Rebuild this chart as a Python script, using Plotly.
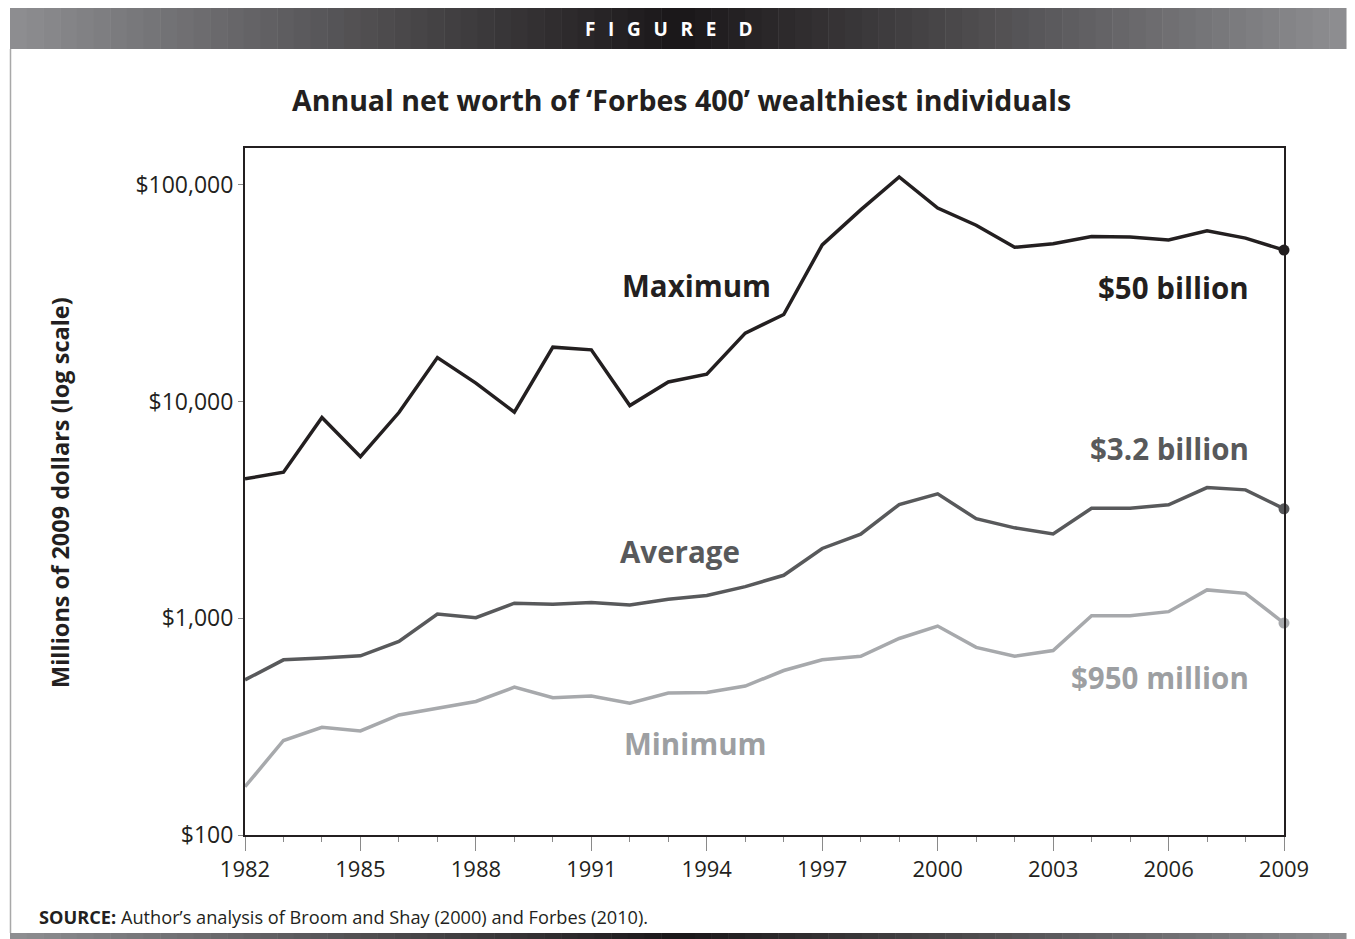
import plotly.graph_objects as go

years = list(range(1982, 2010))
maximum = [4400, 4720, 8440, 5570, 8900, 15960, 12160, 8940, 17830, 17320,
           9580, 12320, 13380, 20700, 25220, 52860, 76650, 108770, 78150, 65100,
           51500, 53500, 57700, 57400, 55700, 61300, 56800, 50000]
average = [520, 643, 655, 671, 782, 1046, 1007, 1174, 1161, 1181,
           1152, 1225, 1273, 1400, 1579, 2100, 2443, 3350, 3754, 2880,
           2614, 2452, 3220, 3220, 3338, 4010, 3913, 3200]
minimum = [167, 273, 314, 302, 358, 385, 413, 481, 430, 438,
           406, 452, 455, 487, 574, 643, 668, 807, 921, 734,
           668, 710, 1028, 1028, 1073, 1352, 1303, 950]

series_names = ["Maximum", "Average", "Minimum"]
end_labels = ["$50 billion", "$3.2 billion", "$950 million"]
ytick_vals = [100, 1000, 10000, 100000]
ytick_text = ["$100", "$1,000", "$10,000", "$100,000"]
xtick_vals = list(range(1982, 2010, 3))

C_MAX = "#231f20"
C_AVG = "#58595b"
C_MIN = "#a7a9ac"
C_MIN_TXT = "#9d9fa2"
FONT = "Open Sans"

# page offset of the plot div (browser body margin)
OFF = 8
W, H = 1355 - OFF, 939 - OFF
ML, MT = 245 - OFF, 148 - OFF
MR, MB = 71, 104
PW, PH = W - ML - MR, H - MT - MB


def px(x):  # page pixel x -> paper
    return (x - OFF - ML) / PW


def py(y):  # page pixel y -> paper
    return (H - MB - (y - OFF)) / PH


fig = go.Figure()
for vals, col in [(maximum, C_MAX), (average, C_AVG), (minimum, C_MIN)]:
    fig.add_trace(go.Scatter(x=years, y=vals, mode="lines",
                             line=dict(color=col, width=3.5),
                             hoverinfo="skip", showlegend=False))
    fig.add_trace(go.Scatter(x=[years[-1]], y=[vals[-1]], mode="markers",
                             marker=dict(color=col, size=11),
                             cliponaxis=False, hoverinfo="skip", showlegend=False))

shapes = []
# gradient header bar and bottom bar
edge = (142, 142, 146)
center = (26, 23, 24)
x0, x1 = 10, 1346
n = 80
cx = (x0 + x1) / 2
for i in range(n):
    a = x0 + (x1 - x0) * i / n
    b = x0 + (x1 - x0) * (i + 1) / n
    mid = (a + b) / 2
    t = abs(mid - cx) / (cx - x0)
    col = "rgb(%d,%d,%d)" % tuple(round(center[k] + (edge[k] - center[k]) * t) for k in range(3))
    for (ya, yb) in [(6, 49), (933, 940)]:
        shapes.append(dict(type="rect", xref="paper", yref="paper",
                           x0=px(a), x1=px(b) + 0.0005, y0=py(yb), y1=py(ya),
                           fillcolor=col, line=dict(width=0), layer="below"))
# frame side lines
for xx in [10.5, 1352.5]:
    shapes.append(dict(type="line", xref="paper", yref="paper",
                       x0=px(xx), x1=px(xx), y0=py(933), y1=py(49),
                       line=dict(color="#a8a8a8", width=1.5)))

sp = "\u2002\u2009"
annotations = [
    dict(text=sp.join("FIGURE") + sp + "\u2002" + "D", x=px(669), y=py(29),
         xref="paper", yref="paper",
         showarrow=False, font=dict(family=FONT, size=19, color="white", weight="bold"),
         xanchor="center", yanchor="middle"),
    dict(text="Annual net worth of \u2018Forbes 400\u2019 wealthiest individuals",
         x=px(681), y=py(100), xref="paper", yref="paper", showarrow=False,
         font=dict(family=FONT, size=28.5, color=C_MAX, weight="bold"),
         xanchor="center", yanchor="middle"),
    dict(text="Millions of 2009 dollars (log scale)", x=px(60), y=py(492),
         xref="paper", yref="paper", showarrow=False, textangle=-90,
         font=dict(family=FONT, size=23.5, color=C_MAX, weight="bold"),
         xanchor="center", yanchor="middle"),
    dict(text="<b>SOURCE:</b> Author\u2019s analysis of Broom and Shay (2000) and Forbes (2010).",
         x=px(37), y=py(917), xref="paper", yref="paper", showarrow=False,
         font=dict(family=FONT, size=18.2, color=C_MAX),
         xanchor="left", yanchor="middle"),
]

lab_font = lambda c: dict(family=FONT, size=29.5, color=c, weight="bold")
for name, (xc, yc), col in zip(series_names,
                                [(696, 285), (680, 551), (695, 743)],
                                [C_MAX, C_AVG, C_MIN_TXT]):
    annotations.append(dict(text=name, x=px(xc), y=py(yc), xref="paper", yref="paper",
                            showarrow=False, font=lab_font(col),
                            xanchor="center", yanchor="middle"))
for lab, yc, col in zip(end_labels, [287, 449, 677], [C_MAX, C_AVG, C_MIN_TXT]):
    annotations.append(dict(text=lab, x=px(1251), y=py(yc), xref="paper", yref="paper",
                            showarrow=False, font=lab_font(col),
                            xanchor="right", yanchor="middle"))

fig.update_layout(
    width=W, height=H,
    margin=dict(l=ML, r=MR, t=MT, b=MB, pad=0),
    paper_bgcolor="white", plot_bgcolor="white",
    shapes=shapes, annotations=annotations,
    xaxis=dict(range=[1982, 2009], tickvals=xtick_vals, ticktext=[str(v) for v in xtick_vals],
               ticks="outside", ticklen=14, tickcolor="#8a8a8a", tickwidth=1,
               minor=dict(dtick=1, tick0=1982, ticks="outside", ticklen=5,
                          tickcolor="#8a8a8a", tickwidth=1, showgrid=False),
               showgrid=False, zeroline=False, showline=True, linecolor=C_MAX,
               linewidth=2, mirror=True,
               tickfont=dict(family=FONT, size=22, color=C_MAX)),
    yaxis=dict(type="log", range=[2, 5.17], tickvals=ytick_vals, ticktext=ytick_text,
               ticks="outside", ticklen=5, tickcolor="#8a8a8a", tickwidth=1,
               showgrid=False, zeroline=False, showline=True, linecolor=C_MAX,
               linewidth=2, mirror=True,
               tickfont=dict(family=FONT, size=23, color=C_MAX)),
)

fig.write_html("out.html")
